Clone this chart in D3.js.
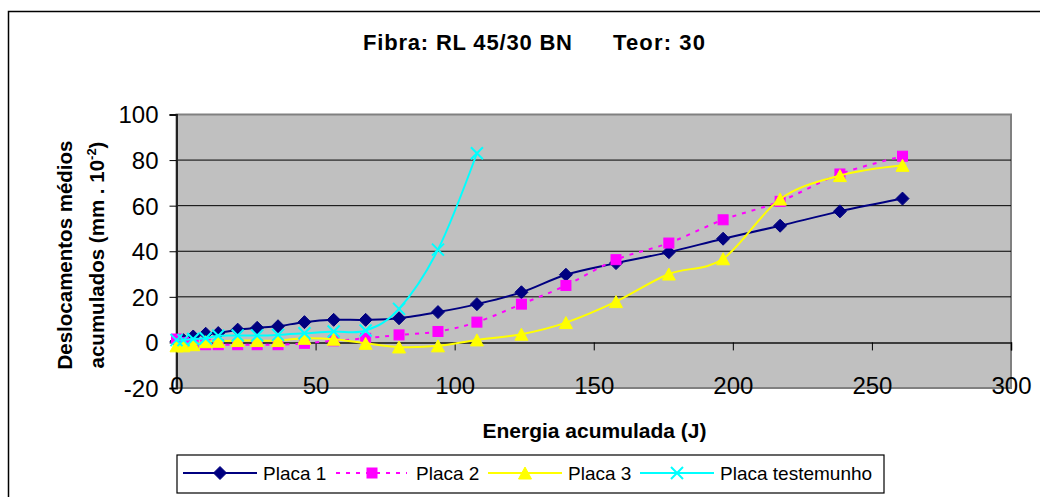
<!DOCTYPE html>
<html>
<head>
<meta charset="utf-8">
<script src="https://cdn.jsdelivr.net/npm/d3@7"></script>
<style>
  body { margin: 0; background: #fff; }
  text { font-family: "Liberation Sans", Arial, sans-serif; fill: #000; }
</style>
</head>
<body>
<svg id="chart" width="1040" height="497"></svg>
<script>
const energy = [0, 2.5, 6, 10.5, 15, 22, 29, 36.5, 46, 56.5, 68, 80, 94, 108, 124, 140, 158, 177, 196.5, 217, 238.5, 261];
const placa1 = [0.5, 1, 2.6, 3.8, 4.1, 5.6, 6.4, 7.1, 8.9, 9.9, 9.9, 10.6, 13.3, 16.8, 22, 29.7, 34.8, 39.6, 45.5, 51.2, 57.5, 63.1];
const placa2 = [1.5, 0, -0.5, -1, -1, -1, -1, -1, -0.4, 0.7, 1.8, 3.3, 4.8, 8.9, 16.8, 25, 36.3, 43.6, 53.8, 61.9, 73.9, 81.7];
const placa3 = [-1.5, -1.5, -1, 0.3, 0.5, 0.8, 0.8, 0.8, 1.8, 1.4, -0.4, -2, -1.5, 1.1, 3.6, 8.7, 17.9, 30, 36.7, 62.9, 73.2, 77.7];
const testemunho = [1, 1, 1.5, 1.8, 2.9, 3, 3, 3.3, 4, 4.8, 5.2, 14.7, 40.7, 83];
const seriesNames = ["Placa 1", "Placa 2", "Placa 3", "Placa testemunho"];
const xTicks = [0, 50, 100, 150, 200, 250, 300];
const yTicks = [-20, 0, 20, 40, 60, 80, 100];
const chartTitleA = "Fibra: RL 45/30 BN";
const chartTitleB = "Teor: 30";
const xTitle = "Energia acumulada (J)";
const yTitle1 = "Deslocamentos médios";
const yTitle2 = "acumulados (mm . 10";

const svg = d3.select("#chart");
const L = 176.5, R = 1011, T = 114.5, B = 388;
const x = d3.scaleLinear().domain([0, 300]).range([L, R]);
const y = d3.scaleLinear().domain([-20, 100]).range([B, T]);

// outer chart border
svg.append("rect").attr("x", 8.5).attr("y", 11.5).attr("width", 1100).attr("height", 600)
  .attr("fill", "#fff").attr("stroke", "#000").attr("stroke-width", 1.5);

// plot area
svg.append("rect").attr("x", L).attr("y", T).attr("width", R - L).attr("height", B - T)
  .attr("fill", "#C0C0C0").attr("stroke", "#808080").attr("stroke-width", 2);

// gridlines
svg.append("g").selectAll("line").data(yTicks.filter(v => v > 0 && v < 100)).join("line")
  .attr("x1", L).attr("x2", R).attr("y1", d => y(d)).attr("y2", d => y(d))
  .attr("stroke", "#000").attr("stroke-width", 1);

// y axis
const yAxis = d3.axisLeft(y).tickValues(yTicks).tickSize(7).tickPadding(11).tickFormat(d => String(d));
const gy = svg.append("g").attr("transform", `translate(${L},0)`).call(yAxis);
gy.select(".domain").attr("stroke", "#222").attr("stroke-width", 2);
gy.selectAll(".tick line").attr("stroke", "#000");
gy.selectAll("text").style("font-size", "24px").attr("dy", "0.35em")
  .style("font-family", "'Liberation Sans', Arial, sans-serif");

// x axis at y=0
const xAxis = d3.axisBottom(x).tickValues(xTicks).tickSize(8).tickPadding(27).tickFormat(d => String(d));
const gx = svg.append("g").attr("transform", `translate(0,${y(0)})`).call(xAxis);
gx.select(".domain").attr("stroke", "#111").attr("stroke-width", 1.5);
gx.selectAll(".tick line").attr("stroke", "#000");
gx.selectAll("text").style("font-size", "24px")
  .style("font-family", "'Liberation Sans', Arial, sans-serif");

// series
const curve = d3.curveCardinal.tension(0);
const line = d3.line().x(d => x(d[0])).y(d => y(d[1])).curve(curve);
const zip = (vals) => vals.map((v, i) => [energy[i], v]);

const styles = [
  { data: zip(placa1), color: "#000080", dash: null, marker: "diamond" },
  { data: zip(placa2), color: "#FF00FF", dash: "4,6", marker: "square" },
  { data: zip(placa3), color: "#FFFF00", dash: null, marker: "triangle" },
  { data: zip(testemunho), color: "#00FFFF", dash: null, marker: "x" }
];

function drawMarker(g, type, color, cx, cy) {
  if (type === "diamond") {
    g.append("path").attr("d", `M${cx},${cy - 6.5}L${cx + 6.5},${cy}L${cx},${cy + 6.5}L${cx - 6.5},${cy}Z`)
      .attr("fill", color).attr("stroke", color).attr("stroke-width", 1);
  } else if (type === "square") {
    g.append("rect").attr("x", cx - 5).attr("y", cy - 5).attr("width", 10).attr("height", 10)
      .attr("fill", color).attr("stroke", color).attr("stroke-width", 1);
  } else if (type === "triangle") {
    g.append("path").attr("d", `M${cx},${cy - 6}L${cx + 6.5},${cy + 6}L${cx - 6.5},${cy + 6}Z`)
      .attr("fill", color).attr("stroke", color).attr("stroke-width", 1);
  } else if (type === "x") {
    g.append("path").attr("d", `M${cx - 6},${cy - 6}L${cx + 6},${cy + 6}M${cx - 6},${cy + 6}L${cx + 6},${cy - 6}`)
      .attr("fill", "none").attr("stroke", color).attr("stroke-width", 2);
  }
}

styles.forEach(s => {
  const g = svg.append("g");
  g.append("path").attr("d", line(s.data)).attr("fill", "none").attr("stroke", s.color)
    .attr("stroke-width", 2).attr("stroke-dasharray", s.dash);
  s.data.forEach(d => drawMarker(g, s.marker, s.color, x(d[0]), y(d[1])));
});

// title
svg.append("text").attr("x", 363).attr("y", 50).style("font-size", "22px").style("font-weight", "bold")
  .attr("textLength", 209).text(chartTitleA);
svg.append("text").attr("x", 613).attr("y", 50).style("font-size", "22px").style("font-weight", "bold")
  .attr("textLength", 92).text(chartTitleB);

// x title
svg.append("text").attr("x", 594.5).attr("y", 438).attr("text-anchor", "middle")
  .style("font-size", "21px").style("font-weight", "bold").text(xTitle);

// y title
const yt = svg.append("g").attr("transform", "translate(0,255) rotate(-90)");
yt.append("text").attr("x", 0).attr("y", 72).attr("text-anchor", "middle")
  .style("font-size", "20.5px").style("font-weight", "bold").text(yTitle1);
const t2 = yt.append("text").attr("x", 0).attr("y", 104).attr("text-anchor", "middle")
  .style("font-size", "20.5px").style("font-weight", "bold");
t2.append("tspan").text(yTitle2);
t2.append("tspan").attr("dy", -8).style("font-size", "13px").text("-2");
t2.append("tspan").attr("dy", 8).text(")");

// legend
svg.append("rect").attr("x", 177).attr("y", 455).attr("width", 707).attr("height", 38)
  .attr("fill", "#fff").attr("stroke", "#000").attr("stroke-width", 1.2);
const legendItems = [
  { x1: 183, x2: 257, mx: 220, tx: 263 },
  { x1: 336, x2: 407, mx: 372, tx: 416 },
  { x1: 488, x2: 562, mx: 525, tx: 568 },
  { x1: 640, x2: 714, mx: 677, tx: 720 }
];
const ly = 473;
legendItems.forEach((li, i) => {
  const s = styles[i];
  const g = svg.append("g");
  g.append("line").attr("x1", li.x1).attr("x2", li.x2).attr("y1", ly).attr("y2", ly)
    .attr("stroke", s.color).attr("stroke-width", 2).attr("stroke-dasharray", s.dash);
  drawMarker(g, s.marker, s.color, li.mx, ly);
  g.append("text").attr("x", li.tx).attr("y", ly).attr("dy", "0.35em")
    .style("font-size", "19px").text(seriesNames[i]);
});
</script>
</body>
</html>
